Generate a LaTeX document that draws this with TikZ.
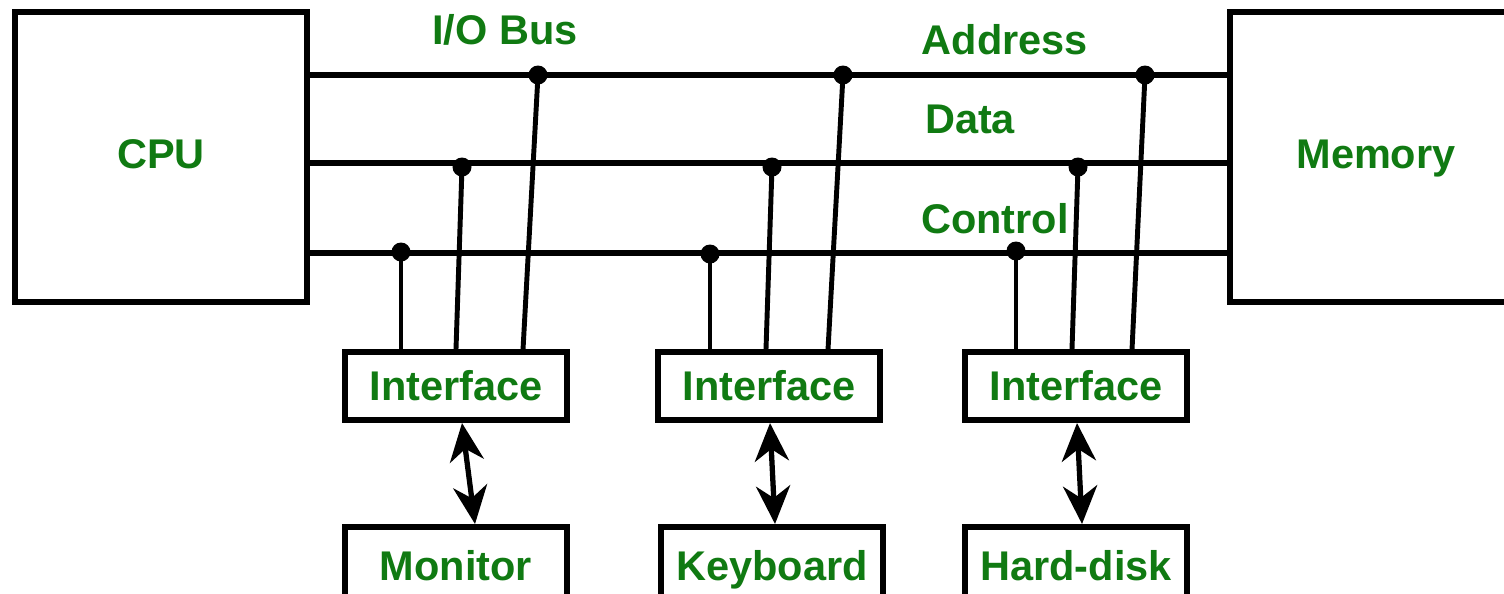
\documentclass[tikz,border=0pt]{standalone}
\usepackage{fontspec}
\setmainfont{Liberation Sans}
\usetikzlibrary{arrows.meta}
\definecolor{busGreen}{HTML}{107A12}
\tikzset{
    unit/.style={draw=black,fill=white,line width=1.7pt,inner sep=0pt,
        minimum width=2.92cm,minimum height=2.90cm,text height=0.30cm,text depth=0.08cm,
        font=\fontsize{11.8}{14}\selectfont\bfseries,text=busGreen},
    ifbox/.style={draw=black,fill=white,line width=1.7pt,inner sep=0pt,
        minimum width=2.22cm,minimum height=0.68cm,text height=0.34cm,text depth=0.06cm,
        font=\fontsize{11.8}{14}\selectfont\bfseries,text=busGreen},
    devbox/.style={draw=black,fill=white,line width=1.7pt,inner sep=0pt,
        minimum width=2.21cm,minimum height=0.78cm,text height=0.34cm,text depth=0.06cm,
        font=\fontsize{11.8}{14}\selectfont\bfseries,text=busGreen},
    buslabel/.style={inner sep=0pt,font=\fontsize{11.8}{14}\selectfont\bfseries,text=busGreen},
    busline/.style={draw=black,line width=1.45pt},
    tap/.style={draw=black,line width=1.4pt},
    joint/.style={circle,fill=black,inner sep=0pt,minimum size=0.19cm},
    twoway/.style={{Stealth[length=0.38cm,width=0.34cm,inset=0.12cm]}-{Stealth[length=0.38cm,width=0.34cm,inset=0.12cm]},
        draw=black,line width=1.5pt}
}
\begin{document}
\begin{tikzpicture}[x=0.01cm,y=-0.01cm]
    \clip (0,0) rectangle (1504,593);
    \fill[white] (0,0) rectangle (1504,593);

    \node[unit] (cpu) at (161,157) {CPU};
    \node[unit] (mem) at (1376,157) {Memory};

    \node[buslabel] at (505,30) {I/O Bus};
    \node[buslabel] at (1005,40) {Address};
    \node[buslabel] at (970,119) {Data};
    \node[buslabel] at (995,219) {Control};

    % bus joints
    \node[joint] (a1) at (538,75) {};
    \node[joint] (a2) at (843,75) {};
    \node[joint] (a3) at (1145,75) {};
    \node[joint] (d1) at (462,167) {};
    \node[joint] (d2) at (772,167) {};
    \node[joint] (d3) at (1078,167) {};
    \node[joint] (c1) at (401,252) {};
    \node[joint] (c2) at (710,254) {};
    \node[joint] (c3) at (1016,251) {};

    \draw[busline] (cpu.east |- a1) -- (mem.west |- a1);
    \draw[busline] (cpu.east |- 0,163) -- (mem.west |- 0,163);
    \draw[busline] (cpu.east |- 0,253) -- (mem.west |- 0,253);

    \node[ifbox] (if1) at (456,386) {Interface};
    \node[ifbox] (if2) at (769,386) {Interface};
    \node[ifbox] (if3) at (1076,386) {Interface};

    \node[devbox] (mon) at (456,566) {Monitor};
    \node[devbox] (kbd) at (772,566) {Keyboard};
    \node[devbox] (hdd) at (1076,566) {Hard-disk};

    \draw[tap] (c1.center) -- (c1 |- if1.north);
    \draw[tap] (d1.center) -- ([xshift=0cm]if1.north);
    \draw[tap] (a1.center) -- ([xshift=0.67cm]if1.north);
    \draw[tap] (c2.center) -- (c2 |- if2.north);
    \draw[tap] (d2.center) -- ([xshift=-0.03cm]if2.north);
    \draw[tap] (a2.center) -- ([xshift=0.59cm]if2.north);
    \draw[tap] (c3.center) -- (c3 |- if3.north);
    \draw[tap] (d3.center) -- ([xshift=-0.04cm]if3.north);
    \draw[tap] (a3.center) -- ([xshift=0.56cm]if3.north);

    \draw[twoway] ([xshift=0.06cm]if1.south) -- ([xshift=0.19cm]mon.north);
    \draw[twoway] ([xshift=0.01cm]if2.south) -- ([xshift=0.03cm]kbd.north);
    \draw[twoway] ([xshift=0.01cm]if3.south) -- ([xshift=0.06cm]hdd.north);
\end{tikzpicture}
\end{document}
